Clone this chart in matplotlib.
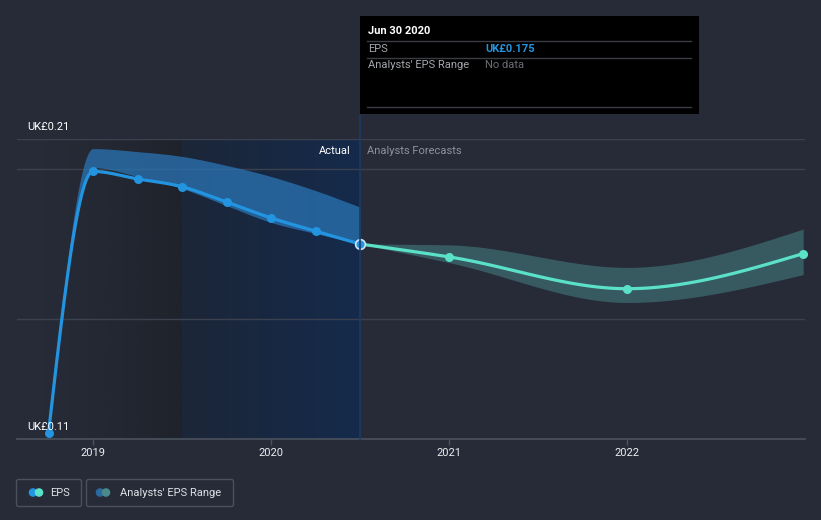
import numpy as np
import matplotlib
matplotlib.use("Agg")
import matplotlib.pyplot as plt
from matplotlib.transforms import Affine2D
from matplotlib.patches import Rectangle, FancyBboxPatch, Circle
from matplotlib.lines import Line2D

plt.rcParams['font.family'] = ['Roboto', 'DejaVu Sans']

# ---------------- data ----------------
actual_dates = [2018.75, 2019.0, 2019.25, 2019.5, 2019.75, 2020.0, 2020.25, 2020.5]
actual_eps = [0.112, 0.1992, 0.1967, 0.1941, 0.1890, 0.1837, 0.1793, 0.175]

hist_range_dates = [2018.75, 2019.0, 2019.25, 2019.5, 2019.75, 2020.0, 2020.25, 2020.5]
hist_range_low = [0.112, 0.2005, 0.1975, 0.1935, 0.1878, 0.1822, 0.1785, 0.175]
hist_range_high = [0.112, 0.2068, 0.2058, 0.2042, 0.2012, 0.1975, 0.1928, 0.1873]

fc_dates = [2020.5, 2021.0, 2022.0, 2022.99]
fc_eps = [0.175, 0.1707, 0.1601, 0.1718]
fc_low = [0.175, 0.1688, 0.1555, 0.1648]
fc_high = [0.175, 0.1747, 0.1672, 0.1800]

year_ticks = [2019, 2020, 2021, 2022]
year_labels = ["2019", "2020", "2021", "2022"]
y_grid = [0.21, 0.20, 0.15]
y_min, y_max = 0.11, 0.21
y_labels = ["UK£0.21", "UK£0.11"]

# ---------------- helpers ----------------
def monotone(x, y, n=40):
    x = np.asarray(x, float); y = np.asarray(y, float)
    h = np.diff(x); s = np.diff(y) / h
    m = np.zeros_like(x)
    for i in range(1, len(x) - 1):
        if s[i - 1] * s[i] <= 0:
            m[i] = 0.0
        else:
            p = (s[i - 1] * h[i] + s[i] * h[i - 1]) / (h[i - 1] + h[i])
            m[i] = (np.sign(s[i - 1]) + np.sign(s[i])) * min(abs(s[i - 1]), abs(s[i]), 0.5 * abs(p))
    m[0] = (3 * s[0] - m[1]) / 2 if len(x) > 2 else s[0]
    m[-1] = (3 * s[-1] - m[-2]) / 2 if len(x) > 2 else s[-1]
    xs, ys = [], []
    for i in range(len(x) - 1):
        t = np.linspace(0, 1, n, endpoint=(i == len(x) - 2))
        h00 = 2 * t**3 - 3 * t**2 + 1
        h10 = t**3 - 2 * t**2 + t
        h01 = -2 * t**3 + 3 * t**2
        h11 = t**3 - t**2
        xs.append(x[i] + t * h[i])
        ys.append(h00 * y[i] + h10 * h[i] * m[i] + h01 * y[i + 1] + h11 * h[i] * m[i + 1])
    return np.concatenate(xs), np.concatenate(ys)

W, H = 821, 520
BG = "#262b37"
fig = plt.figure(figsize=(W / 100, H / 100), dpi=100, facecolor=BG)
pix = Affine2D().scale(1 / W, -1 / H).translate(0, 1) + fig.transFigure

ax = fig.add_axes([17 / W, (H - 439) / H, (805 - 17) / W, 300 / H])
ax.set_facecolor(BG)
x0, x1 = 2018.573, 2023.0
for sp in ax.spines.values():
    sp.set_visible(False)

# shaded regions
ngr = 256
dark = np.zeros((1, ngr, 4))
dark[..., :3] = np.array([28, 31, 38]) / 255
dark[..., 3] = np.linspace(0, 0.75, ngr) ** 1.3
ax.imshow(dark, extent=[2018.7, 2019.5, y_min, y_max], aspect='auto', zorder=0.5, interpolation='bilinear')
blue = np.zeros((1, ngr, 4))
c0 = np.array([28, 38, 56]) / 255
c1 = np.array([21, 42, 75]) / 255
tt = np.linspace(0, 1, ngr)[:, None]
blue[0, :, :3] = c0 * (1 - tt) + c1 * tt
blue[..., 3] = 1
ax.imshow(blue, extent=[2019.5, 2020.5, y_min, y_max], aspect='auto', zorder=0.6, interpolation='bilinear')
ax.set_xlim(x0, x1)
ax.set_ylim(y_min, y_max)

# grid lines
for g in y_grid:
    ax.axhline(g, color="#3b414e", lw=1, zorder=1)
ax.axhline(y_min, color="#4b515d", lw=1.2, zorder=1, clip_on=False)

# ticks
ax.set_xticks(year_ticks)
ax.set_xticklabels(year_labels)
ax.tick_params(axis='x', length=4, width=1, color="#4b515d", labelcolor="#eceef1", labelsize=8, pad=2.5)
ax.set_yticks([])

# historic range band
bx, bl = monotone(hist_range_dates, hist_range_low)
_, bh = monotone(hist_range_dates, hist_range_high)
ax.fill_between(bx, bl, bh, color="#2a74b5", alpha=0.75, lw=0, zorder=2)

# forecast band
fx, fl = monotone(fc_dates, fc_low)
_, fh = monotone(fc_dates, fc_high)
ax.fill_between(fx, fl, fh, color="#3c6a6e", alpha=0.75, lw=0, zorder=2)

# lines
lx, ly = monotone(actual_dates, actual_eps)
ax.plot(lx, ly, color="#2394df", lw=2.3, zorder=4, solid_capstyle='round', clip_on=False)
ax.plot(actual_dates[:-1], actual_eps[:-1], 'o', color="#2394df", ms=6.5, mew=0, zorder=5, clip_on=False)
gx, gy = monotone(fc_dates, fc_eps)
ax.plot(gx, gy, color="#5ce1c9", lw=2.3, zorder=4, solid_capstyle='round', clip_on=False)
ax.plot(fc_dates[1:], fc_eps[1:], 'o', color="#5ce1c9", ms=6.5, mew=0, zorder=5, clip_on=False)
ax.plot([actual_dates[-1]], [actual_eps[-1]], 'o', color="#2394df", ms=7, mec="#cfe4f7", mew=1.2, zorder=6, clip_on=False)

# vertical hover line
fig.add_artist(Line2D([360, 360], [115, 439], transform=pix, color="#1d3a63", lw=1.2, zorder=3))

# y labels
fig.text(27 / W, 1 - 127 / H, y_labels[0], color="#ffffff", fontsize=8, va='center', ha='left')
fig.text(27 / W, 1 - 427 / H, y_labels[1], color="#ffffff", fontsize=8, va='center', ha='left', zorder=3)

# Actual / forecasts labels
fig.text(351 / W, 1 - 151 / H, "Actual", color="#ffffff", fontsize=8, va='center', ha='right')
fig.text(367 / W, 1 - 151 / H, "Analysts Forecasts", color="#8d929b", fontsize=8, va='center', ha='left')

# tooltip
fig.add_artist(Rectangle((360, 16), 339, 98, transform=pix, facecolor="#000000", edgecolor='none', zorder=10))
for yy in [40.5, 57.5, 106.5]:
    fig.add_artist(Line2D([367, 691], [yy, yy], transform=pix, color="#3a3d44", lw=1, zorder=11))
fig.text(368 / W, 1 - 31 / H, "Jun 30 2020", color="#ffffff", fontsize=8, fontweight='bold', va='center', ha='left', zorder=12)
fig.text(368 / W, 1 - 48.5 / H, "EPS", color="#a4a7ad", fontsize=8, va='center', ha='left', zorder=12)
fig.text(485 / W, 1 - 48.5 / H, "UK£0.175", color="#2394df", fontsize=8, fontweight='bold', va='center', ha='left', zorder=12)
fig.text(368 / W, 1 - 65.5 / H, "Analysts' EPS Range", color="#a4a7ad", fontsize=8, va='center', ha='left', zorder=12)
fig.text(485 / W, 1 - 65.5 / H, "No data", color="#6b6e74", fontsize=8, va='center', ha='left', zorder=12)

# legend
for (lx0, lw_) in [(16.5, 65), (86.5, 147)]:
    fig.add_artist(FancyBboxPatch((lx0, 479.5), lw_, 27, boxstyle="round,pad=0,rounding_size=2",
                                  transform=pix, facecolor='none', edgecolor="#4a505c", lw=1, zorder=10))
for cx, col in [(33, "#2394df"), (39, "#5ce1c9")]:
    fig.add_artist(Circle((cx, 492.5), 4.3, transform=pix, facecolor=col, edgecolor='none', zorder=11))
for cx, col in [(100, "#2a6aa0"), (106, "#4a8a8a")]:
    fig.add_artist(Circle((cx, 492.5), 4.3, transform=pix, facecolor=col, edgecolor='none', zorder=11))
fig.text(50 / W, 1 - 493 / H, "EPS", color="#dfe1e5", fontsize=8, va='center', ha='left')
fig.text(120 / W, 1 - 493 / H, "Analysts' EPS Range", color="#dfe1e5", fontsize=8, va='center', ha='left')

fig.savefig("out.png", dpi=100, facecolor=BG)
